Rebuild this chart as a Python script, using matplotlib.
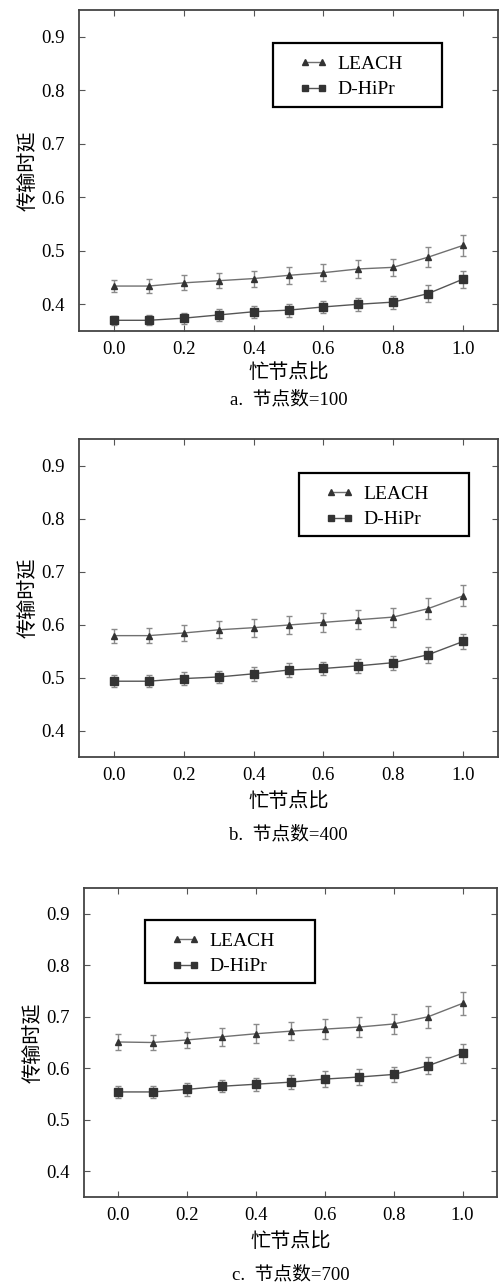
import matplotlib
matplotlib.use("Agg")
import matplotlib.pyplot as plt
from matplotlib.lines import Line2D
from matplotlib.patches import Rectangle
import numpy as np

plt.rcParams['font.family'] = ['Liberation Serif', 'Noto Sans CJK SC', 'DejaVu Sans']

#------------- data ----------------------------------------------------
x = [0.0, 0.1, 0.2, 0.3, 0.4, 0.5, 0.6, 0.7, 0.8, 0.9, 1.0]
xticks = [0.0, 0.2, 0.4, 0.6, 0.8, 1.0]
yticks = [0.4, 0.5, 0.6, 0.7, 0.8, 0.9]
names = ["LEACH", "D-HiPr"]
captions = ["a.  节点数=100", "b.  节点数=400", "c.  节点数=700"]

leach_100 = [0.434, 0.434, 0.440, 0.444, 0.448, 0.454, 0.459, 0.466, 0.469, 0.488, 0.510]
leach_100_err = [0.012, 0.013, 0.014, 0.014, 0.015, 0.016, 0.016, 0.016, 0.016, 0.019, 0.019]
dhipr_100 = [0.370, 0.370, 0.374, 0.380, 0.386, 0.389, 0.395, 0.400, 0.404, 0.420, 0.447]
dhipr_100_err = [0.008, 0.009, 0.010, 0.011, 0.011, 0.012, 0.012, 0.012, 0.012, 0.016, 0.016]

leach_400 = [0.579, 0.579, 0.584, 0.590, 0.594, 0.599, 0.604, 0.609, 0.614, 0.630, 0.654]
leach_400_err = [0.013, 0.014, 0.015, 0.016, 0.017, 0.017, 0.018, 0.018, 0.018, 0.020, 0.020]
dhipr_400 = [0.493, 0.493, 0.498, 0.501, 0.507, 0.514, 0.517, 0.522, 0.528, 0.543, 0.568]
dhipr_400_err = [0.011, 0.011, 0.012, 0.012, 0.013, 0.013, 0.013, 0.013, 0.013, 0.015, 0.015]

leach_700 = [0.651, 0.650, 0.655, 0.661, 0.667, 0.672, 0.676, 0.680, 0.686, 0.700, 0.726]
leach_700_err = [0.015, 0.015, 0.016, 0.017, 0.018, 0.018, 0.019, 0.019, 0.019, 0.021, 0.023]
dhipr_700 = [0.554, 0.554, 0.559, 0.565, 0.569, 0.573, 0.579, 0.583, 0.588, 0.605, 0.629]
dhipr_700_err = [0.011, 0.011, 0.012, 0.012, 0.013, 0.014, 0.015, 0.015, 0.015, 0.017, 0.018]

panels = [
	(leach_100, leach_100_err, dhipr_100, dhipr_100_err),
	(leach_400, leach_400_err, dhipr_400, dhipr_400_err),
	(leach_700, leach_700_err, dhipr_700, dhipr_700_err),
]

#------------- layout (pixels of a 500x1286 figure) ---------------------
W, H = 500.0, 1286.0
boxes = [(79, 10, 498, 331), (79, 439, 498, 757), (84, 888, 497, 1197)]
legend_box = [(273, 43, 442, 107), (299, 473, 469, 536), (145, 920, 315, 983)]
xlabel_y = [373, 802, 1242]
caption_y = [400, 835, 1275]

le_style = dict(color="#707070", lw=1.0, marker="^", ms=5, mfc="#333333", mec="#333333")
dh_style = dict(color="#555555", lw=1.0, marker="s", ms=5.5, mfc="#333333", mec="#333333")
err_style = dict(ecolor="#8a8a8a", elinewidth=1.0, capsize=2.5, capthick=1.0)

fig = plt.figure(figsize=(5.0, 12.86), dpi=100)

for i in range(3):
	l, t, r, b = boxes[i]
	ax = fig.add_axes([l/W, 1-b/H, (r-l)/W, (b-t)/H])
	le, lee, dh, dhe = panels[i]

	ax.errorbar(x, le, yerr=lee, **le_style, **err_style)
	ax.errorbar(x, dh, yerr=dhe, **dh_style, **err_style)

	ax.set_xlim(-0.1, 1.1)
	ax.set_ylim(0.35, 0.95)
	ax.set_xticks(xticks)
	ax.set_xticklabels([f"{v:.1f}" for v in xticks])
	ax.set_yticks(yticks)
	ax.set_yticklabels([f"{v:.1f}" for v in yticks])
	ax.tick_params(direction="in", length=4, width=0.8, color="#555555",
				   top=True, right=True, labelsize=13.5)
	ax.tick_params(axis="y", pad=10)
	ax.tick_params(axis="x", pad=7)
	for s in ax.spines.values():
		s.set_linewidth(1.3)
		s.set_color("#444444")

	ax.set_ylabel("传输时延", fontsize=14.5, labelpad=2)

	# legend: frame drawn as a box, entries placed inside it
	lx0, ly0, lx1, ly1 = legend_box[i]
	ax.add_patch(Rectangle((lx0/W, 1-ly1/H), (lx1-lx0)/W, (ly1-ly0)/H,
						   transform=fig.transFigure, fill=True, fc="white",
						   ec="black", lw=1.6, zorder=5))
	handles = [Line2D([], [], **le_style), Line2D([], [], **dh_style)]
	leg = ax.legend(handles, names, loc="upper left",
					bbox_to_anchor=((lx0+26-l)/(r-l), 1-(ly0+12-t)/(b-t)),
					numpoints=2, handlelength=1.5, handletextpad=0.45, fontsize=14,
					frameon=False, borderpad=0, borderaxespad=0,
					labelspacing=0.42, markerscale=0.8)
	leg.set_zorder(6)

	fig.text((l+r)/2/W, 1-xlabel_y[i]/H, "忙节点比", ha="center", va="center", fontsize=14.5)
	fig.text((l+r)/2/W, 1-caption_y[i]/H, captions[i], ha="center", va="center", fontsize=13.5)

fig.savefig("out.png", dpi=100)
